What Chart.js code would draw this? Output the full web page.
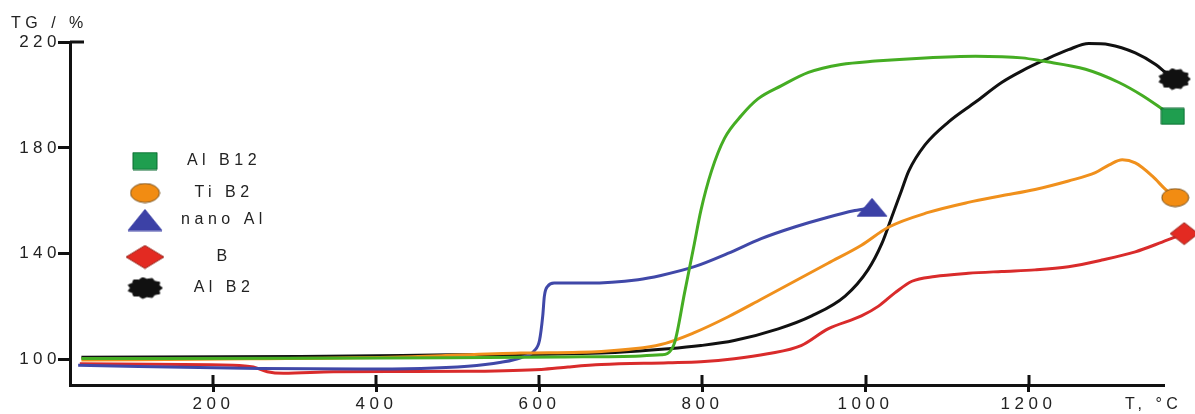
<!DOCTYPE html>
<html>
<head>
  <title>TG curves</title>
  <script src="https://cdn.jsdelivr.net/npm/chart.js"></script>
  <style>
    body { margin: 0; background: #fff; }
    canvas { display: block; }
  </style>
</head>
<body>
  <canvas id="tgChart" width="1195" height="414"></canvas>
  <script>
    // temperature (°C) / mass (%) pairs for each sample
    const alb12T  = [38, 307, 491, 626, 724, 749, 757, 766, 778, 790, 798, 811, 827, 848, 868, 897, 930, 970, 1012, 1073, 1135, 1192, 1217, 1270, 1311, 1340, 1364, 1377];
    const alb12TG = [100.4, 100.5, 100.7, 101.0, 101.4, 101.8, 102.3, 106.6, 125.2, 143.8, 156.3, 171.2, 183.6, 192.3, 198.5, 203.5, 208.5, 211.5, 212.8, 214.0, 214.6, 214.0, 212.8, 209.7, 204.7, 199.7, 194.7, 191.9];

    const tib2T  = [38, 245, 430, 577, 676, 749, 790, 831, 872, 913, 954, 995, 1028, 1077, 1126, 1167, 1208, 1249, 1282, 1299, 1315, 1331, 1352, 1368, 1380];
    const tib2TG = [99.8, 100.3, 101.0, 102.5, 103.1, 105.7, 110.2, 116.1, 122.8, 129.6, 136.4, 143.2, 150.0, 155.6, 159.4, 161.9, 164.3, 167.5, 170.6, 173.6, 175.5, 174.3, 169.3, 164.3, 161.2];

    const nanoAlT  = [34, 257, 380, 512, 553, 577, 594, 600, 604, 606, 610, 618, 659, 721, 749, 790, 831, 872, 913, 954, 987, 1008];
    const nanoAlTG = [97.9, 96.6, 96.4, 97.5, 99.0, 100.7, 103.5, 107.2, 116.5, 124.0, 127.7, 128.9, 128.9, 130.2, 131.8, 135.1, 140.1, 145.7, 150.1, 153.8, 156.3, 157.5];

    const boronT  = [36, 224, 249, 266, 286, 347, 430, 512, 602, 635, 676, 758, 798, 839, 880, 921, 954, 995, 1016, 1036, 1057, 1085, 1126, 1167, 1208, 1249, 1290, 1331, 1364, 1391];
    const boronTG = [98.4, 97.9, 97.2, 95.4, 94.8, 95.4, 95.5, 95.6, 96.3, 97.2, 98.1, 98.8, 99.2, 100.3, 102.2, 105.3, 111.6, 116.5, 120.2, 125.2, 129.6, 131.4, 132.6, 133.3, 133.9, 135.1, 137.6, 140.7, 144.4, 147.6];

    const alb2T  = [38, 307, 491, 676, 758, 798, 839, 893, 934, 975, 1003, 1020, 1032, 1044, 1053, 1073, 1102, 1135, 1167, 1192, 1221, 1249, 1274, 1299, 1331, 1356, 1368, 1379];
    const alb2TG = [100.9, 101.2, 101.8, 102.5, 104.1, 105.3, 107.2, 111.6, 116.5, 124.0, 133.9, 143.8, 153.7, 163.7, 171.2, 181.1, 189.8, 197.3, 204.7, 209.1, 213.4, 217.1, 219.4, 219.0, 215.9, 211.5, 208.5, 206.0];

    const xTicks = [200, 400, 600, 800, 1000, 1200];
    const yTicks = [100, 140, 180, 220];
    const xRange = [24, 1365];
    const yRange = [90.4, 220];

    const FONT = '"Liberation Sans", Arial, sans-serif';
    const SPACING = '4.5px';

    function pts(xs, ys) { return xs.map((x, i) => ({ x, y: ys[i] })); }

    // small canvases used as point styles (end markers and legend)
    function marker(shape, w, h, fill, stroke) {
      const c = document.createElement('canvas');
      c.width = w + 2; c.height = h + 2;
      const g = c.getContext('2d');
      const cx = c.width / 2, cy = c.height / 2;
      g.fillStyle = fill; g.strokeStyle = stroke; g.lineWidth = 1;
      g.beginPath();
      if (shape === 'rect') {
        g.rect(1, 1, w, h);
      } else if (shape === 'ellipse') {
        g.ellipse(cx, cy, w / 2, h / 2, 0, 0, Math.PI * 2);
      } else if (shape === 'triangle') {
        g.moveTo(cx, 1); g.lineTo(1 + w, 1 + h); g.lineTo(1, 1 + h); g.closePath();
      } else if (shape === 'diamond') {
        g.moveTo(cx, 1); g.lineTo(1 + w, cy); g.lineTo(cx, 1 + h); g.lineTo(1, cy); g.closePath();
      } else {
        // notched blob
        for (let i = 0; i < 22; i++) {
          const a = i * Math.PI / 11, r = i % 2 ? 0.84 : 1;
          const px = cx + (w / 2) * r * Math.cos(a), py = cy + (h / 2) * r * Math.sin(a);
          if (i === 0) g.moveTo(px, py); else g.lineTo(px, py);
        }
        g.closePath();
      }
      g.fill(); g.stroke();
      return c;
    }

    const series = [
      { label: 'Al B12', data: pts(alb12T, alb12TG), color: '#45ad23',
        end: marker('rect', 23, 16, '#1f9e4f', '#0b6b30'), key: marker('rect', 24, 17, '#1f9e4f', '#0b6b30') },
      { label: 'Ti B2', data: pts(tib2T, tib2TG), color: '#f0901c',
        end: marker('ellipse', 27, 18, '#f28c12', '#7a5320'), key: marker('ellipse', 29, 19, '#f28c12', '#7a5320') },
      { label: 'nano Al', data: pts(nanoAlT, nanoAlTG), color: '#4048a8',
        end: marker('triangle', 30, 18, '#3c41a6', '#3c41a6'), key: marker('triangle', 34, 21, '#3c41a6', '#3c41a6') },
      { label: 'B', data: pts(boronT, boronTG), color: '#d92b2b',
        end: marker('diamond', 28, 22, '#e32a22', '#9a2a20'), key: marker('diamond', 38, 23, '#e32a22', '#9a2a20') },
      { label: 'Al B2', data: pts(alb2T, alb2TG), color: '#111',
        end: marker('gear', 32, 21, '#111', '#111'), key: marker('gear', 35, 21, '#111', '#111') }
    ];

    const axisDecor = {
      id: 'axisDecor',
      beforeDraw(chart) {
        chart.ctx.letterSpacing = SPACING;
      },
      afterDraw(chart) {
        const { ctx, chartArea, scales: { x, y } } = chart;
        ctx.save();
        ctx.strokeStyle = '#111';
        ctx.lineWidth = 3;
        ctx.beginPath();
        // x ticks also poke up into the plot
        xTicks.forEach(v => {
          const px = Math.round(x.getPixelForValue(v));
          ctx.moveTo(px, chartArea.bottom);
          ctx.lineTo(px, chartArea.bottom - 10);
        });
        // top tick crosses the axis
        const top = y.getPixelForValue(yTicks[yTicks.length - 1]);
        ctx.moveTo(chartArea.left, top);
        ctx.lineTo(chartArea.left + 14, top);
        ctx.stroke();

        ctx.fillStyle = '#222';
        ctx.font = '16px ' + FONT;
        ctx.letterSpacing = SPACING;
        ctx.textBaseline = 'middle';
        ctx.textAlign = 'left';
        ctx.fillText('TG / %', 11, 24);
        ctx.fillText('T, °C', 1125, 405);

        // legend
        const rows = [161, 193, 220, 257, 288];
        ctx.textAlign = 'center';
        series.forEach((s, i) => {
          const m = s.key;
          ctx.drawImage(m, 145 - m.width / 2, rows[i] - m.height / 2);
          ctx.fillText(s.label, 224, rows[i]);
        });
        ctx.restore();
      }
    };

    Chart.defaults.font.family = FONT;
    Chart.defaults.color = '#222';

    new Chart(document.getElementById('tgChart'), {
      type: 'line',
      data: {
        datasets: series.map(s => ({
          label: s.label,
          data: s.data,
          borderColor: s.color,
          borderWidth: 3,
          cubicInterpolationMode: 'monotone',
          pointStyle: s.end,
          pointRadius: c => c.dataIndex === s.data.length - 1 ? 26 : 0,
          pointHoverRadius: 0,
          clip: false
        }))
      },
      options: {
        responsive: false,
        animation: false,
        layout: { padding: { top: 42, right: 32, left: 0, bottom: 0 } },
        plugins: { legend: { display: false }, tooltip: { enabled: false } },
        scales: {
          x: {
            type: 'linear',
            bounds: 'data',
            // range set here (not as min/max) so the end markers past the axis still get drawn
            afterBuildTicks: s => {
              s.min = xRange[0];
              s.max = xRange[1];
              s.ticks = xTicks.map(v => ({ value: v }));
            },
            afterFit: s => { s.height = 24; },
            grid: { drawOnChartArea: false, tickLength: 7, color: '#111', lineWidth: 3 },
            border: { color: '#111', width: 3 },
            ticks: { font: { size: 17 }, padding: 2, maxRotation: 0, color: '#222', callback: v => String(v) }
          },
          y: {
            min: yRange[0],
            max: yRange[1],
            afterBuildTicks: s => { s.ticks = yTicks.map(v => ({ value: v })); },
            afterFit: s => { s.width = 70; },
            grid: { drawOnChartArea: false, tickLength: 12, color: '#111', lineWidth: 3 },
            border: { color: '#111', width: 3 },
            ticks: { font: { size: 17 }, padding: -3, color: '#222', callback: v => String(v) }
          }
        }
      },
      plugins: [axisDecor]
    });
  </script>
</body>
</html>
